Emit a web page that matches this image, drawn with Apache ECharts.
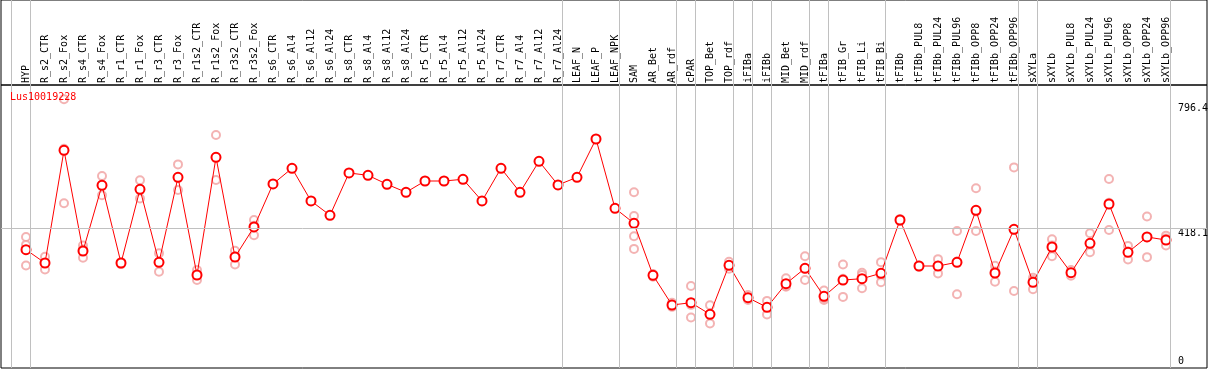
<!DOCTYPE html>
<html>
<head>
<meta charset="utf-8">
<script src="https://cdn.jsdelivr.net/npm/echarts@6/dist/echarts.min.js"></script>
<style>html,body{margin:0;padding:0;background:#fff;overflow:hidden;}#c{width:1209px;height:370px;}</style>
</head>
<body>
<div id="c"></div>
<script>
const title = 'Lus10019228';
const categories = ['HYP','R_s2_CTR','R_s2_Fox','R_s4_CTR','R_s4_Fox','R_r1_CTR','R_r1_Fox','R_r3_CTR','R_r3_Fox','R_r1s2_CTR','R_r1s2_Fox','R_r3s2_CTR','R_r3s2_Fox','R_s6_CTR','R_s6_Al4','R_s6_Al12','R_s6_Al24','R_s8_CTR','R_s8_Al4','R_s8_Al12','R_s8_Al24','R_r5_CTR','R_r5_Al4','R_r5_Al12','R_r5_Al24','R_r7_CTR','R_r7_Al4','R_r7_Al12','R_r7_Al24','LEAF_N','LEAF_P','LEAF_NPK','SAM','AR_Bet','AR_rdf','cPAR','TOP_Bet','TOP_rdf','iFIBa','iFIBb','MID_Bet','MID_rdf','tFIBa','tFIB_Gr','tFIB_Li','tFIB_Bi','tFIBb','tFIBb_PUL8','tFIBb_PUL24','tFIBb_PUL96','tFIBb_OPP8','tFIBb_OPP24','tFIBb_OPP96','sXYLa','sXYLb','sXYLb_PUL8','sXYLb_PUL24','sXYLb_PUL96','sXYLb_OPP8','sXYLb_OPP24','sXYLb_OPP96'];
const means = [353.5,313.4,653.6,349.6,547.9,313.4,535.9,315.5,572.1,277.1,632.5,331.5,422.1,551.9,599.3,500.6,457.4,585.1,578.1,551.0,526.8,560.9,560.9,566.1,500.6,599.3,526.8,620.4,548.9,572.1,687.7,478.5,433.2,276.2,186.6,193.5,158.5,306.4,208.6,179.6,250.9,297.4,212.8,262.0,266.0,282.3,443.2,304.3,304.3,315.5,472.5,283.2,415.1,255.1,361.7,284.1,372.8,491.5,345.7,391.9,382.8];
const replicates = [
 [392,368,306],[332,313,294],[808,658,494],[366,354,329],[576,550,518],[316,313,310],[563,537,508],[343,316,287],[611,571,534],[292,277,262],[700,633,564],[350,334,309],[443,426,397],
 [],[],[],[],[],[],[],[],[],[],[],[],[],[],[],[],[],[],[],
 [527,455,394,356],[280,276,272],[193,186,181],[244,187,149],[186,158,131],[317,306,296],[217,209,202],[199,180,158],[267,242,244],[334,262,297],[230,202,207],[309,211,266],[284,237,277],[316,274,255],[446,443,440],[306,304,302],[325,282,305],[410,219,318],[539,410,469],[305,257,288],[602,229,414],[269,234,262],[385,334,366],[292,275,285],[403,346,370],[567,413,495],[365,324,348],[454,331,391],[396,366,387]
];
const yTickLabels = [0, 418.1, 796.4];
const refLine = 418.1;
// group separators: drawn after these category indices
const groupBreaks = [-1, 0, 28, 31, 34, 35, 37, 38, 39, 41, 42, 45, 52, 53, 60];

const X_MIN = -25/19, X_MAX = -25/19 + 1206/19;
const SEP_OFF = 0.24;
const FONT = 'DejaVu Sans Mono';
const idx = categories.map((c,i)=>i);
const sepLines = groupBreaks.map(b => ({xAxis: b + SEP_OFF}));
const meanData = means.map((v,i)=>[i,v]);
const repData = [];
replicates.forEach((arr,i)=>arr.forEach(v=>repData.push([i,v])));

const chart = echarts.init(document.getElementById('c'), null, {renderer:'canvas'});
chart.setOption({
  animation: false,
  backgroundColor: '#fff',
  title: {text: title, left: 10, top: 92, padding: 0,
    textStyle: {color: '#ff0000', fontSize: 10, fontWeight: 'normal', fontFamily: FONT}},
  grid: [
    {left: 1, right: 2, top: 0, height: 85, show: true, borderColor: '#000', borderWidth: 1, backgroundColor: 'transparent', containLabel: false, outerBoundsMode: 'none'},
    {left: 1, right: 2, top: 85, bottom: 2, show: true, borderColor: '#000', borderWidth: 1, backgroundColor: 'transparent', containLabel: false, outerBoundsMode: 'none'}
  ],
  xAxis: [
    {gridIndex: 0, type: 'value', min: X_MIN, max: X_MAX, position: 'bottom',
     axisLine: {show: false}, axisTick: {show: false}, splitLine: {show: false},
     axisLabel: {show: true, inside: true, rotate: 90, margin: 2, customValues: idx,
       formatter: v => categories[Math.round(v)] || '', color: '#000', fontSize: 10, fontFamily: FONT}},
    {gridIndex: 1, type: 'value', min: X_MIN, max: X_MAX,
     axisLine: {show: false}, axisTick: {show: false}, splitLine: {show: false}, axisLabel: {show: false}}
  ],
  yAxis: [
    {gridIndex: 0, type: 'value', min: 0, max: 1, show: false},
    {gridIndex: 1, type: 'value', min: -3.6, max: 850.7, position: 'right',
     axisLine: {show: false}, axisTick: {show: false}, splitLine: {show: false},
     axisLabel: {show: true, inside: true, align: 'left', margin: 29, customValues: yTickLabels,
       verticalAlign: 'middle', lineHeight: 11, color: '#000', fontSize: 10, fontFamily: FONT,
       formatter: v => v === 0 ? '0\n' : '\n' + v}}
  ],
  series: [
    {type: 'line', xAxisIndex: 0, yAxisIndex: 0, data: [], silent: true,
     markLine: {silent: true, symbol: 'none', label: {show: false}, animation: false,
       lineStyle: {color: '#c0c0c0', width: 1, type: 'solid'}, data: sepLines}},
    {type: 'line', xAxisIndex: 1, yAxisIndex: 1, data: [], silent: true, z: 1,
     markLine: {silent: true, symbol: 'none', label: {show: false}, animation: false,
       lineStyle: {color: '#c0c0c0', width: 1, type: 'solid'}, data: sepLines.concat([{yAxis: refLine}])}},
    {type: 'scatter', xAxisIndex: 1, yAxisIndex: 1, data: repData, z: 2,
     symbol: 'emptyCircle', symbolSize: 8,
     itemStyle: {color: '#f0a0a0', borderColor: '#f0a0a0', borderWidth: 1.2}},
    {type: 'line', xAxisIndex: 1, yAxisIndex: 1, data: meanData, z: 3,
     symbol: 'emptyCircle', symbolSize: 9, showAllSymbol: true,
     lineStyle: {color: '#ff0000', width: 1},
     itemStyle: {color: '#ff0000', borderColor: '#ff0000', borderWidth: 1.6}}
  ]
});
</script>
</body>
</html>
